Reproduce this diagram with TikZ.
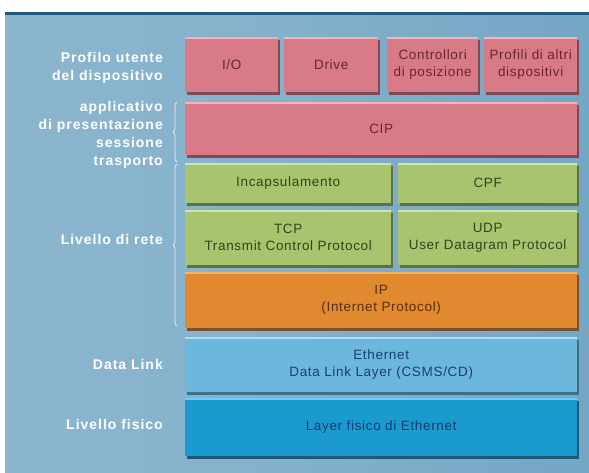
\documentclass[tikz,border=0pt]{standalone}
\usepackage{fontspec}
\setmainfont{Liberation Sans}
\newfontfamily\boxfont[LetterSpace=5]{Liberation Sans}
\newfontfamily\labelfont[LetterSpace=7]{Liberation Sans}
\usetikzlibrary{shadows,decorations.pathreplacing}

% palette
\definecolor{bgdark}{HTML}{3872A4}
\definecolor{bglight}{HTML}{8CB6CE}
\definecolor{bgright}{HTML}{659CC0}
\definecolor{bgtop}{HTML}{1F5A82}
\definecolor{pinkc}{HTML}{D97B86}
\definecolor{pinkl}{HTML}{F2B3BB}
\definecolor{pinkd}{HTML}{7D4A56}
\definecolor{pinkt}{HTML}{6A2430}
\definecolor{greenc}{HTML}{A8C46E}
\definecolor{greenl}{HTML}{D2E6A4}
\definecolor{greend}{HTML}{5E7045}
\definecolor{greent}{HTML}{33421C}
\definecolor{orangec}{HTML}{E0892E}
\definecolor{orangel}{HTML}{F6B466}
\definecolor{oranged}{HTML}{7A5030}
\definecolor{oranget}{HTML}{5A2E0C}
\definecolor{skyc}{HTML}{6CB8DC}
\definecolor{skyl}{HTML}{A8E0F6}
\definecolor{skyd}{HTML}{3F6E88}
\definecolor{skyt}{HTML}{1C3E6C}
\definecolor{deepc}{HTML}{1A9ACE}
\definecolor{deepl}{HTML}{6CCDF0}
\definecolor{deepd}{HTML}{1D5878}
\definecolor{deept}{HTML}{153C70}

\pgfdeclarehorizontalshading{panelshade}{100bp}{
  color(0bp)=(bgdark); color(6bp)=(bgdark!75!bglight);
  color(22bp)=(bglight); color(45bp)=(bglight!85!bgright);
  color(100bp)=(bgright)}

\tikzset{
  layer/.style n args={3}{draw=none, fill=#1, anchor=north west,
    inner sep=0pt, align=center, font=\boxfont\fontsize{13.5}{17}\selectfont,
    drop shadow={shadow xshift=1.5pt, shadow yshift=-3pt, fill=#2, opacity=1},
    path picture={\draw[line width=3pt, #3]
      (path picture bounding box.north west) -- (path picture bounding box.north east);}},
  pinkbox/.style={layer={pinkc}{pinkd}{pinkl}, text=pinkt},
  greenbox/.style={layer={greenc}{greend}{greenl}, text=greent},
  orangebox/.style={layer={orangec}{oranged}{orangel}, text=oranget},
  skybox/.style={layer={skyc}{skyd}{skyl}, text=skyt},
  deepbox/.style={layer={deepc}{deepd}{deepl}, text=deept},
  sidelabel/.style={anchor=east, align=right, text=white,
    font=\labelfont\bfseries\fontsize{14}{18}\selectfont, inner sep=0pt},
  bracket/.style={draw=white!85!bglight, line width=0.7pt,
    decorate, decoration={brace, amplitude=4pt, mirror}}
}

\begin{document}
\begin{tikzpicture}[x=1pt, y=-1pt]
  \useasboundingbox (0,0) rectangle (589,472);
  \fill[white] (0,0) rectangle (589,472);

  % background panel
  \shade[shading=panelshade] (5,12) rectangle (589,472);
  \fill[bgtop] (5,12) rectangle (589,15);

  % application profiles
  \node[pinkbox, minimum width=93pt, minimum height=55pt] (io) at (185,37) {I/O};
  \node[pinkbox, minimum width=94pt, minimum height=55pt] (drive) at (284,37) {Drive};
  \node[pinkbox, minimum width=91pt, minimum height=55pt] (ctrl) at (387,37) {Controllori\\di posizione};
  \node[pinkbox, minimum width=93pt, minimum height=55pt] (prof) at (484,37) {Profili di altri\\dispositivi};

  \node[pinkbox, minimum width=392pt, minimum height=53pt] (cip) at (185,102) {CIP};

  % network layer
  \node[greenbox, minimum width=206pt, minimum height=40pt] (inc) at (185,163) {Incapsulamento};
  \node[greenbox, minimum width=179pt, minimum height=40pt] (cpf) at (398,163) {CPF};
  \node[greenbox, minimum width=206pt, minimum height=55pt] (tcp) at (185,210) {TCP\\Transmit Control Protocol};
  \node[greenbox, minimum width=179pt, minimum height=55pt] (udp) at (398,210) {UDP\\User Datagram Protocol};

  \node[orangebox, minimum width=392pt, minimum height=56pt] (ip) at (185,272) {IP\\(Internet Protocol)};

  % link and physical layers
  \node[skybox, minimum width=392pt, minimum height=55pt] (eth) at (185,337) {Ethernet\\Data Link Layer (CSMS/CD)};
  \node[deepbox, minimum width=392pt, minimum height=58pt] (phy) at (185,398) {Layer fisico di Ethernet};

  % side labels
  \node[sidelabel] (lprof) at (163,68) {Profilo utente\\del dispositivo};
  \node[sidelabel] (lapp) at (163,134.5) {applicativo\\di presentazione\\sessione\\trasporto};
  \node[sidelabel] (lnet) at (163,239) {Livello di rete};
  \node[sidelabel] (llink) at (163,364) {Data Link};
  \node[sidelabel] (lphy) at (163,424) {Livello fisico};

  % braces
  \coordinate (b1a) at (177,102);
  \coordinate (b1b) at (177,162);
  \coordinate (b2a) at (177,164);
  \coordinate (b2b) at (177,326);
  \draw[bracket] (b1a) -- (b1b);
  \draw[bracket] (b2a) -- (b2b);
\end{tikzpicture}
\end{document}
